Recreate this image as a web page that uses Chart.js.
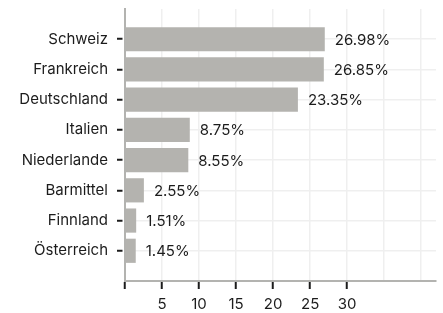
<!DOCTYPE html>
<html>
<head>
<meta charset="utf-8">
<script src="https://cdn.jsdelivr.net/npm/chart.js@4"></script>
<style>
  html, body { margin: 0; padding: 0; background: #fff; }
  #wrap { width: 443px; height: 313px; }
</style>
</head>
<body>
<div id="wrap"><canvas id="shareChart"></canvas></div>
<script>
const countries = ['Schweiz', 'Frankreich', 'Deutschland', 'Italien', 'Niederlande', 'Barmittel', 'Finnland', 'Österreich'];
const shares = [26.98, 26.85, 23.35, 8.75, 8.55, 2.55, 1.51, 1.45];
const xTicks = [5, 10, 15, 20, 25, 30];

const FONT = 'Inter, "DejaVu Sans", sans-serif';
const textColor = '#1c1c1c';

// empty slot above and below so the bars sit away from the axes
const labels = ['', ...countries, ''];
const values = [null, ...shares, null];

const valueLabels = {
  id: 'valueLabels',
  afterDatasetsDraw(chart) {
    const ctx = chart.ctx;
    const meta = chart.getDatasetMeta(0);
    ctx.save();
    ctx.font = '15px ' + FONT;
    ctx.fillStyle = textColor;
    ctx.textBaseline = 'middle';
    ctx.textAlign = 'left';
    meta.data.forEach((bar, i) => {
      const v = values[i];
      if (v === null) return;
      ctx.fillText(v.toFixed(2) + '%', bar.x + 10, bar.y + 1);
    });
    ctx.restore();
  }
};

new Chart(document.getElementById('shareChart'), {
  type: 'bar',
  data: {
    labels: labels,
    datasets: [{
      data: values,
      backgroundColor: '#b4b3af',
      borderWidth: 0,
      categoryPercentage: 0.8,
      barPercentage: 1.0
    }]
  },
  options: {
    indexAxis: 'y',
    responsive: true,
    maintainAspectRatio: false,
    animation: false,
    layout: { padding: { top: 0, right: 7, left: 0, bottom: 0 } },
    plugins: { legend: { display: false }, tooltip: { enabled: false } },
    scales: {
      y: {
        offset: false,
        grid: {
          offset: false,
          color: (c) => (c.index === 0 || c.index === labels.length - 1) ? 'rgba(0,0,0,0)' : '#efefef',
          tickColor: (c) => (c.index === 0 || c.index === labels.length - 1) ? 'rgba(0,0,0,0)' : '#1c1c1c',
          lineWidth: 1.5,
          tickWidth: 2,
          tickLength: 8,
          tickBorderDash: [5.5, 20]
        },
        border: { color: '#b3b3b0', width: 2 },
        ticks: { color: textColor, font: { family: FONT, size: 15 }, padding: 9, autoSkip: false },
        afterFit: (scale) => {
          scale.width = 125;
          scale.paddingTop = 9;
          scale.paddingBottom = 0;
        }
      },
      x: {
        min: 0,
        max: 42,
        grid: {
          color: '#efefef',
          lineWidth: 1.5,
          tickColor: (c) => (c.tick && xTicks.includes(c.tick.value)) || (c.tick && c.tick.value === 0) ? '#1c1c1c' : 'rgba(0,0,0,0)',
          tickWidth: 2,
          tickLength: 8
        },
        border: { color: '#b3b3b0', width: 2 },
        ticks: {
          stepSize: 5,
          includeBounds: false,
          color: textColor,
          font: { family: FONT, size: 15 },
          padding: 6,
          maxRotation: 0,
          callback: (v) => xTicks.includes(v) ? String(v) : ''
        },
        afterFit: (scale) => { scale.height = 32; }
      }
    }
  },
  plugins: [valueLabels]
});
</script>
</body>
</html>
